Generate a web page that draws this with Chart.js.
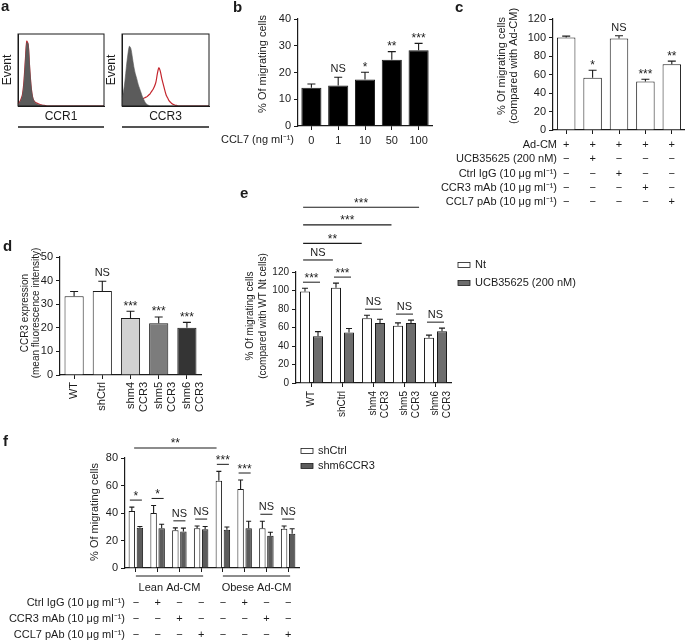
<!DOCTYPE html>
<html lang="en">
<head>
<meta charset="UTF-8" />
<title>CCR3 / CCL7 migration figure</title>
<script src="https://cdn.jsdelivr.net/npm/chart.js@4.4.1/dist/chart.umd.min.js"></script>
<style>
    body { margin: 0; background: #fff; }
    #fig { position: relative; width: 685px; height: 643px; }
    #fig canvas { position: absolute; left: 0; top: 0; }
</style>
</head>
<body>
<div id="fig">
    <canvas id="a1" width="685" height="643"></canvas>
    <canvas id="a2" width="685" height="643"></canvas>
    <canvas id="b" width="685" height="643"></canvas>
    <canvas id="c" width="685" height="643"></canvas>
    <canvas id="d" width="685" height="643"></canvas>
    <canvas id="e" width="685" height="643"></canvas>
    <canvas id="f" width="685" height="643"></canvas>
</div>

<script>
// ---- panel a : flow histograms (60 bins) ----
const ccr1Grey = [0.02, 0.04, 0.08, 0.14, 0.30, 0.60, 0.88, 0.86, 0.55, 0.28, 0.13, 0.07, 0.04, 0.03, 0.02, 0.015, 0.01, 0.01, 0.005, 0,
    0, 0, 0, 0, 0, 0, 0, 0, 0, 0, 0, 0, 0, 0, 0, 0, 0, 0, 0, 0,
    0, 0, 0, 0, 0, 0, 0, 0, 0, 0, 0, 0, 0, 0, 0, 0, 0, 0, 0, 0];
const ccr1Red = [0.03, 0.05, 0.09, 0.15, 0.32, 0.62, 0.90, 0.85, 0.52, 0.26, 0.12, 0.07, 0.05, 0.04, 0.03, 0.02, 0.015, 0.01, 0.01, 0.005,
    0, 0, 0, 0, 0, 0, 0, 0, 0, 0, 0, 0, 0, 0, 0, 0, 0, 0, 0, 0,
    0, 0, 0, 0, 0, 0, 0, 0, 0, 0, 0, 0, 0, 0, 0, 0, 0, 0, 0, 0];
const ccr3Grey = [0.12, 0.20, 0.35, 0.55, 0.72, 0.83, 0.80, 0.68, 0.55, 0.45, 0.38, 0.30, 0.24, 0.18, 0.12, 0.08, 0.04, 0.02, 0.01, 0,
    0, 0, 0, 0, 0, 0, 0, 0, 0, 0, 0, 0, 0, 0, 0, 0, 0, 0, 0, 0,
    0, 0, 0, 0, 0, 0, 0, 0, 0, 0, 0, 0, 0, 0, 0, 0, 0, 0, 0, 0];
const ccr3Red = [0.08, 0.09, 0.08, 0.07, 0.08, 0.07, 0.07, 0.06, 0.06, 0.05, 0.05, 0.06, 0.08, 0.09, 0.10, 0.11, 0.12, 0.13, 0.15, 0.17,
    0.20, 0.23, 0.27, 0.33, 0.45, 0.53, 0.48, 0.38, 0.30, 0.22, 0.15, 0.11, 0.07, 0.05, 0.03, 0.02, 0.01, 0.01, 0, 0,
    0, 0, 0, 0, 0, 0, 0, 0, 0, 0, 0, 0, 0, 0, 0, 0, 0, 0, 0, 0];

// ---- panel b ----
const doseLabels = ['0', '1', '10', '50', '100'];
const doseMean = [14.3, 15.1, 17.4, 24.8, 28.3];
const doseErr = [1.4, 3.1, 2.7, 3.0, 2.6];
const doseSig = ['', 'NS', '*', '**', '***'];

// ---- panel c ----
const cMean = [100, 56.6, 98.9, 52.3, 71.0];
const cErr = [1.5, 8.0, 3.0, 2.5, 3.5];
const cSig = ['', '*', 'NS', '***', '**'];
const cRows = ['Ad-CM', 'UCB35625 (200 nM)', 'Ctrl IgG (10 μg ml⁻¹)', 'CCR3 mAb (10 μg ml⁻¹)', 'CCL7 pAb (10 μg ml⁻¹)'];
const cTable = [
    ['+', '+', '+', '+', '+'],
    ['−', '+', '−', '−', '−'],
    ['−', '−', '+', '−', '−'],
    ['−', '−', '−', '+', '−'],
    ['−', '−', '−', '−', '+']
];

// ---- panel d ----
const dLabels = ['WT', 'shCtrl', ['shm4', 'CCR3'], ['shm5', 'CCR3'], ['shm6', 'CCR3']];
const dMean = [33.4, 35.6, 24.1, 21.9, 20.0];
const dErr = [2.0, 4.1, 2.9, 2.7, 2.3];
const dSig = ['', 'NS', '***', '***', '***'];

// ---- panel e ----
const eLabels = ['WT', 'shCtrl', ['shm4', 'CCR3'], ['shm5', 'CCR3'], ['shm6', 'CCR3']];
const eSeries = ['Nt', 'UCB35625 (200 nM)'];
const eNt = [99, 103, 70, 62, 49];
const eNtErr = [3.5, 5, 3.3, 3, 2.8];
const eUcb = [50.5, 54.5, 65, 65, 56];
const eUcbErr = [5, 4.5, 4, 3, 3.3];
const eSig = ['***', '***', 'NS', 'NS', 'NS'];
// [text, from index, to index, level in y units]
const eBrackets = [['NS', -0.27, 0.69, 133], ['**', -0.27, 1.62, 151], ['***', -0.27, 2.58, 171], ['***', -0.27, 3.47, 190]];

// ---- panel f ----
const fLabels = ['1', '2', '3', '4', '5', '6', '7', '8'];
const fSeries = ['shCtrl', 'shm6CCR3'];
const fShCtrl = [41.5, 40, 27.5, 29, 63.5, 57.5, 29, 28.5];
const fShCtrlErr = [2.8, 5.5, 1.7, 1.5, 6.8, 6.5, 5, 2];
const fShm6 = [29.2, 29, 26.5, 28.2, 27.8, 29, 23.5, 25];
const fShm6Err = [1, 2.8, 2.5, 2, 2, 5, 2.5, 3.5];
const fSig = ['*', '*', 'NS', 'NS', '***', '***', 'NS', 'NS'];
const fBracket = ['**', -0.08, 3.71, 87.3];
const fGroups = [['Lean Ad-CM', 0, 3], ['Obese Ad-CM', 4, 7]];
const fRows = ['Ctrl IgG (10 μg ml⁻¹)', 'CCR3 mAb (10 μg ml⁻¹)', 'CCL7 pAb (10 μg ml⁻¹)'];
const fTable = [
    ['−', '+', '−', '−', '−', '+', '−', '−'],
    ['−', '−', '+', '−', '−', '−', '+', '−'],
    ['−', '−', '−', '+', '−', '−', '−', '+']
];

// ---------------------------------------------------------------
const ink = '#1b1b1b';
const FONT = '"Liberation Sans", Arial, Helvetica, sans-serif';
Chart.defaults.font.family = FONT;
Chart.defaults.font.size = 11;
Chart.defaults.color = ink;
Chart.defaults.animation = false;
Chart.defaults.responsive = false;
Chart.defaults.plugins.legend.display = false;
Chart.defaults.plugins.tooltip.enabled = false;

// padding so that the plot area sits at (l,t)-(r,b) on the 685x643 page
function pad(l, t, r, b, yw, xh) {
    return { padding: { left: l - yw, top: t, right: 685 - r, bottom: 643 - b - xh } };
}

function yAxis(max, step, yw, size) {
    return {
        min: 0, max: max,
        afterFit: s => { s.width = yw; },
        ticks: { stepSize: step, padding: 3, font: { size: size }, color: ink },
        grid: { drawOnChartArea: false, tickLength: 4, color: ink, lineWidth: 1 },
        border: { color: ink, width: 1.2 }
    };
}

function xAxis(xh, ticks) {
    return {
        afterFit: s => { s.height = xh; },
        ticks: Object.assign({ padding: 3, color: ink, autoSkip: false }, ticks),
        grid: { drawOnChartArea: false, tickLength: 4, offset: false, color: ink, lineWidth: 1 },
        border: { color: ink, width: 1.2 }
    };
}

function put(ctx, s, x, y, o) {
    o = o || {};
    ctx.save();
    ctx.font = (o.bold ? 'bold ' : '') + (o.size || 11) + 'px ' + FONT;
    ctx.fillStyle = ink;
    ctx.textAlign = o.align || 'center';
    ctx.textBaseline = o.base || 'middle';
    ctx.translate(x, y);
    if (o.rot) ctx.rotate(-Math.PI / 2);
    ctx.fillText(s, 0, 0);
    ctx.restore();
}

function hline(ctx, x1, x2, y, w) {
    ctx.save();
    ctx.strokeStyle = ink;
    ctx.lineWidth = w || 1;
    ctx.beginPath();
    ctx.moveTo(x1, y);
    ctx.lineTo(x2, y);
    ctx.stroke();
    ctx.restore();
}

// significance mark sitting on a reference line y
function mark(ctx, s, x, y) {
    if (!s) return;
    if (s === 'NS') put(ctx, s, x, y - 4, { base: 'alphabetic' });
    else put(ctx, s, x, y - 0.5, { base: 'alphabetic', size: 12 });
}

function errTop(chart, di, j) {
    const ds = chart.data.datasets[di];
    return chart.scales.y.getPixelForValue(ds.data[j] + ds.errors[j]);
}

function singleMarks(chart, sig) {
    const bars = chart.getDatasetMeta(0).data;
    sig.forEach((s, j) => mark(chart.ctx, s, bars[j].x, errTop(chart, 0, j) - 1));
}

function pairMarks(chart, sig, gap) {
    const a = chart.getDatasetMeta(0).data, b = chart.getDatasetMeta(1).data;
    sig.forEach((s, j) => {
        const y = Math.min(errTop(chart, 0, j), errTop(chart, 1, j)) - gap;
        hline(chart.ctx, a[j].x - 2, b[j].x + 2, y);
        mark(chart.ctx, s, (a[j].x + b[j].x) / 2, y);
    });
}

function legendBox(ctx, x, y, fill, label) {
    ctx.save();
    ctx.fillStyle = fill;
    ctx.strokeStyle = ink;
    ctx.lineWidth = 0.8;
    ctx.fillRect(x, y - 2.5, 12, 5);
    ctx.strokeRect(x, y - 2.5, 12, 5);
    ctx.restore();
    put(ctx, label, x + 17, y, { align: 'left' });
}

// one-sided (upward) error bars read from dataset.errors
const errorBars = {
    id: 'errorBars',
    afterDatasetsDraw(chart, args, opts) {
        const ctx = chart.ctx, y = chart.scales.y, cap = opts.cap || 3;
        chart.data.datasets.forEach((ds, i) => {
            if (!ds.errors) return;
            chart.getDatasetMeta(i).data.forEach((bar, j) => {
                const top = y.getPixelForValue(ds.data[j] + ds.errors[j]);
                ctx.save();
                ctx.strokeStyle = ink;
                ctx.lineWidth = 1.1;
                ctx.beginPath();
                ctx.moveTo(bar.x, bar.y);
                ctx.lineTo(bar.x, top);
                ctx.moveTo(bar.x - cap, top);
                ctx.lineTo(bar.x + cap, top);
                ctx.stroke();
                ctx.restore();
            });
        });
    }
};
Chart.register(errorBars);

// ---- panel a ----
function histogram(id, l, r, grey, red, name, letter) {
    new Chart(document.getElementById(id), {
        type: 'line',
        data: {
            labels: grey.map((v, i) => i),
            datasets: [
                { data: grey, fill: 'origin', backgroundColor: '#5b5b5b', borderColor: '#5b5b5b', borderWidth: 0.6, pointRadius: 0, tension: 0.3 },
                { data: red, fill: false, borderColor: '#c4262e', borderWidth: 1.2, pointRadius: 0, tension: 0.3 }
            ]
        },
        options: {
            layout: pad(l, 34, r, 106, 0, 0),
            scales: {
                x: { afterFit: s => { s.height = 0; }, ticks: { display: false }, grid: { display: false }, border: { color: ink, width: 1 } },
                y: { min: 0, max: 1, afterFit: s => { s.width = 0; }, ticks: { display: false }, grid: { display: false }, border: { color: ink, width: 1 } }
            }
        },
        plugins: [{
            id: 'histText',
            afterDraw(chart) {
                const ctx = chart.ctx, a = chart.chartArea;
                ctx.save();
                ctx.strokeStyle = ink;
                ctx.lineWidth = 1;
                ctx.strokeRect(a.left, a.top, a.right - a.left, a.bottom - a.top);
                ctx.restore();
                put(ctx, 'Event', a.left - 10, (a.top + a.bottom) / 2, { rot: true, size: 12 });
                put(ctx, name, (a.left + a.right) / 2, 117, { size: 12 });
                hline(ctx, a.left, a.right, 127, 1.3);
                if (letter) put(ctx, letter, 1, 11, { bold: true, size: 15, align: 'left', base: 'alphabetic' });
            }
        }]
    });
}
histogram('a1', 18, 104, ccr1Grey, ccr1Red, 'CCR1', 'a');
histogram('a2', 122, 209, ccr3Grey, ccr3Red, 'CCR3', '');

// ---- panel b ----
new Chart(document.getElementById('b'), {
    type: 'bar',
    data: {
        labels: doseLabels,
        datasets: [{ data: doseMean, errors: doseErr, backgroundColor: '#000', borderColor: ink, borderWidth: 1, barPercentage: 0.75, categoryPercentage: 1 }]
    },
    options: {
        layout: pad(298, 19, 432, 126, 40, 30),
        scales: { x: xAxis(30, { padding: 4 }), y: yAxis(40, 10, 40, 11) },
        plugins: { errorBars: { cap: 4 } }
    },
    plugins: [{
        id: 'bText',
        afterDraw(chart) {
            const ctx = chart.ctx;
            put(ctx, 'b', 233, 12, { bold: true, size: 15, align: 'left', base: 'alphabetic' });
            put(ctx, '% Of migrating cells', 263, 64, { rot: true });
            put(ctx, 'CCL7 (ng ml⁻¹)', 294, 140, { align: 'right' });
            singleMarks(chart, doseSig);
        }
    }]
});

// ---- panel c ----
new Chart(document.getElementById('c'), {
    type: 'bar',
    data: {
        labels: cMean.map((v, i) => String(i + 1)),
        datasets: [{ data: cMean, errors: cErr, backgroundColor: '#fff', borderColor: ink, borderWidth: 1, barPercentage: 0.7, categoryPercentage: 1 }]
    },
    options: {
        layout: pad(553, 19, 685, 130, 40, 20),
        scales: { x: xAxis(20, { display: false }), y: yAxis(120, 20, 40, 11) },
        plugins: { errorBars: { cap: 4 } }
    },
    plugins: [{
        id: 'cText',
        afterDraw(chart) {
            const ctx = chart.ctx, x = chart.scales.x;
            put(ctx, 'c', 455, 12, { bold: true, size: 15, align: 'left', base: 'alphabetic' });
            put(ctx, '% Of migrating cells', 502, 66, { rot: true });
            put(ctx, '(compared with Ad-CM)', 514, 66, { rot: true });
            singleMarks(chart, cSig);
            cRows.forEach((row, r) => {
                const y = 145 + r * 14.3;
                put(ctx, row, 557, y, { align: 'right' });
                cTable[r].forEach((s, j) => put(ctx, s, x.getPixelForValue(j), y));
            });
        }
    }]
});

// ---- panel d ----
new Chart(document.getElementById('d'), {
    type: 'bar',
    data: {
        labels: dLabels,
        datasets: [{
            data: dMean, errors: dErr,
            backgroundColor: ['#ffffff', '#ffffff', '#d2d2d2', '#7c7c7c', '#343434'],
            borderColor: ink, borderWidth: 1, barPercentage: 0.68, categoryPercentage: 1
        }]
    },
    options: {
        layout: pad(60, 257, 201, 375, 40, 60),
        scales: { x: xAxis(60, { minRotation: 90, maxRotation: 90, padding: 3 }), y: yAxis(50, 10, 40, 11) },
        plugins: { errorBars: { cap: 4 } }
    },
    plugins: [{
        id: 'dText',
        afterDraw(chart) {
            const ctx = chart.ctx;
            put(ctx, 'd', 3, 251, { bold: true, size: 15, align: 'left', base: 'alphabetic' });
            put(ctx, 'CCR3 expression', 25, 313, { rot: true, size: 10 });
            put(ctx, '(mean fluorescence intensity)', 36, 313, { rot: true, size: 10 });
            singleMarks(chart, dSig);
        }
    }]
});

// ---- panel e ----
new Chart(document.getElementById('e'), {
    type: 'bar',
    data: {
        labels: eLabels,
        datasets: [
            { label: eSeries[0], data: eNt, errors: eNtErr, backgroundColor: '#fff', borderColor: ink, borderWidth: 1, barPercentage: 0.77, categoryPercentage: 0.84 },
            { label: eSeries[1], data: eUcb, errors: eUcbErr, backgroundColor: '#6d6d6d', borderColor: ink, borderWidth: 1, barPercentage: 0.77, categoryPercentage: 0.84 }
        ]
    },
    options: {
        layout: pad(296, 272, 451, 383, 40, 60),
        scales: { x: xAxis(60, { minRotation: 90, maxRotation: 90, padding: 4, font: { size: 10 } }), y: yAxis(120, 20, 40, 10) },
        plugins: { errorBars: { cap: 3 } }
    },
    plugins: [{
        id: 'eText',
        afterDraw(chart) {
            const ctx = chart.ctx, x = chart.scales.x, y = chart.scales.y;
            put(ctx, 'e', 240, 198, { bold: true, size: 15, align: 'left', base: 'alphabetic' });
            put(ctx, '% Of migrating cells', 250, 316, { rot: true, size: 10 });
            put(ctx, '(compared with WT Nt cells)', 263, 316, { rot: true, size: 10 });
            pairMarks(chart, eSig, 6);
            eBrackets.forEach(([s, from, to, level]) => {
                const x1 = x.getPixelForValue(from), x2 = x.getPixelForValue(to), yy = y.getPixelForValue(level);
                hline(ctx, x1, x2, yy, 1.1);
                mark(ctx, s, (x1 + x2) / 2, yy);
            });
            legendBox(ctx, 458, 265, '#fff', eSeries[0]);
            legendBox(ctx, 458, 283, '#6d6d6d', eSeries[1]);
        }
    }]
});

// ---- panel f ----
new Chart(document.getElementById('f'), {
    type: 'bar',
    data: {
        labels: fLabels,
        datasets: [
            { label: fSeries[0], data: fShCtrl, errors: fShCtrlErr, backgroundColor: '#fff', borderColor: ink, borderWidth: 1, barPercentage: 0.8, categoryPercentage: 0.74 },
            { label: fSeries[1], data: fShm6, errors: fShm6Err, backgroundColor: '#5c5c5c', borderColor: ink, borderWidth: 1, barPercentage: 0.8, categoryPercentage: 0.74 }
        ]
    },
    options: {
        layout: pad(125, 458, 299, 568, 40, 20),
        scales: { x: xAxis(20, { display: false }), y: yAxis(80, 10, 40, 11) },
        plugins: { errorBars: { cap: 2.5 } }
    },
    plugins: [{
        id: 'fText',
        afterDraw(chart) {
            const ctx = chart.ctx, x = chart.scales.x, y = chart.scales.y;
            put(ctx, 'f', 3, 446, { bold: true, size: 15, align: 'left', base: 'alphabetic' });
            put(ctx, '% Of migrating cells', 95, 512, { rot: true });
            pairMarks(chart, fSig, 7);
            const [s, from, to, level] = fBracket;
            const x1 = x.getPixelForValue(from), x2 = x.getPixelForValue(to), yy = y.getPixelForValue(level);
            hline(ctx, x1, x2, yy, 1.1);
            mark(ctx, s, (x1 + x2) / 2, yy);
            fGroups.forEach(([name, i0, i1]) => {
                const g1 = x.getPixelForValue(i0), g2 = x.getPixelForValue(i1) + 2;
                hline(ctx, g1, g2, 576, 1);
                put(ctx, name, (g1 + g2) / 2, 588);
            });
            fRows.forEach((row, r) => {
                const yy2 = 603 + r * 16;
                put(ctx, row, 125, yy2, { align: 'right' });
                fTable[r].forEach((t, j) => put(ctx, t, x.getPixelForValue(j), yy2));
            });
            legendBox(ctx, 301, 451, '#fff', fSeries[0]);
            legendBox(ctx, 301, 466, '#5c5c5c', fSeries[1]);
        }
    }]
});
</script>
</body>
</html>
